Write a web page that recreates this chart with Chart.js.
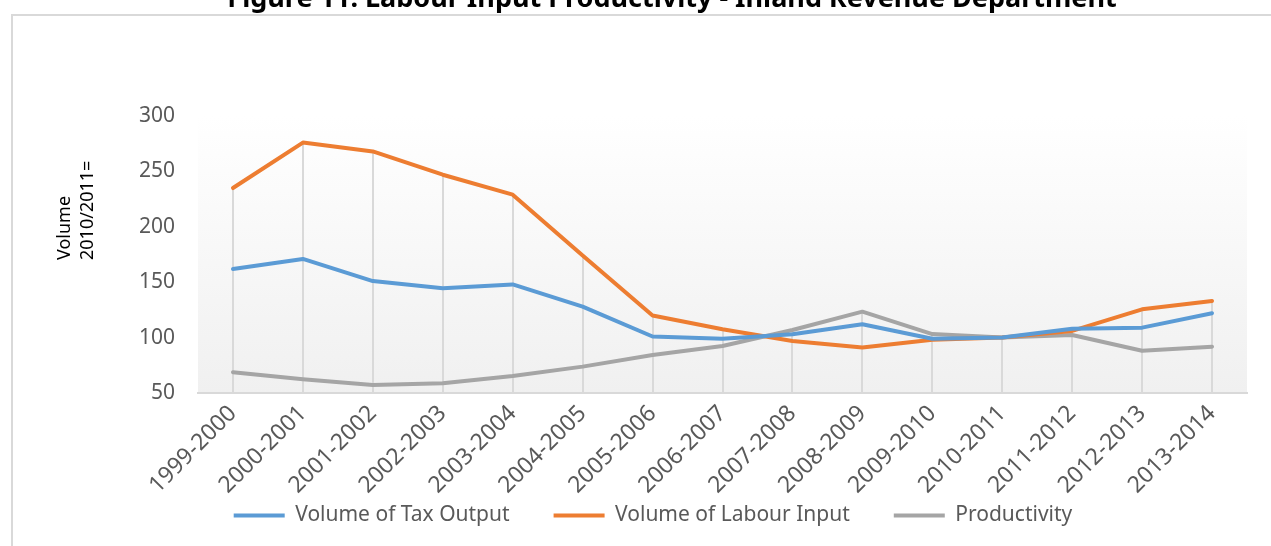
<!DOCTYPE html>
<html>
<head>
<meta charset="utf-8">
<script src="https://cdn.jsdelivr.net/npm/chart.js@4.4.1/dist/chart.umd.min.js"></script>
<style>
  html, body { margin: 0; padding: 0; background: #fff; }
</style>
</head>
<body>
<canvas id="chart" width="1271" height="546"></canvas>
<script>
const years = [
  "1999-2000", "2000-2001", "2001-2002", "2002-2003", "2003-2004",
  "2004-2005", "2005-2006", "2006-2007", "2007-2008", "2008-2009",
  "2009-2010", "2010-2011", "2011-2012", "2012-2013", "2013-2014"
]
const taxOutput = [162, 171, 151, 144.5, 148, 128, 101, 99, 103, 112, 99, 100, 108, 109, 122]
const labourInput = [235, 276, 268, 247, 229, 174, 120, 107.5, 97, 91, 98, 100, 106, 125.5, 133]
const productivity = [68.7, 62.4, 57.2, 58.7, 65.3, 73.8, 84.3, 92.4, 106.9, 123.4, 103.2, 100, 102.3, 88.2, 91.8]
const yMin = 50
const yMax = 300
const yStep = 50

const FONT = "'Noto Sans', sans-serif"
const LABEL_GREY = "#595959"

// white page, outer frame, cropped heading, plot gradient and the rotated y title
const framePlugin = {
  id: "frame",
  beforeDraw(chart) {
    const { ctx, chartArea } = chart
    ctx.save()
    ctx.fillStyle = "#fff"
    ctx.fillRect(0, 0, chart.width, chart.height)

    ctx.strokeStyle = "#d9d9d9"
    ctx.lineWidth = 2
    ctx.beginPath()
    ctx.moveTo(12, chart.height + 2)
    ctx.lineTo(12, 15)
    ctx.lineTo(chart.width + 2, 15)
    ctx.stroke()

    ctx.fillStyle = "#000"
    ctx.font = `bold 27px ${FONT}`
    ctx.textAlign = "center"
    ctx.textBaseline = "alphabetic"
    ctx.fillText("Figure 11: Labour Input Productivity - Inland Revenue Department", 672, 7)

    const grad = ctx.createLinearGradient(0, chartArea.top, 0, chartArea.bottom)
    grad.addColorStop(0, "#ffffff")
    grad.addColorStop(1, "#f0f0f0")
    ctx.fillStyle = grad
    ctx.fillRect(chartArea.left, chartArea.top, chartArea.right - chartArea.left, chartArea.bottom - chartArea.top)

    ctx.fillStyle = "#000"
    ctx.font = `18px ${FONT}`
    ctx.textAlign = "left"
    ctx.textBaseline = "middle"
    ctx.translate(0, 260)
    ctx.rotate(-Math.PI / 2)
    ctx.fillText("Volume", 0, 65)
    ctx.fillText("2010/2011=", 0, 88)
    ctx.restore()
  }
}

// drop lines from the highest series down to the category axis
const dropLinesPlugin = {
  id: "dropLines",
  beforeDatasetsDraw(chart) {
    const { ctx, chartArea, scales } = chart
    ctx.save()
    ctx.strokeStyle = "#d9d9d9"
    ctx.lineWidth = 2
    years.forEach((_, i) => {
      const top = Math.max(taxOutput[i], labourInput[i], productivity[i])
      const x = Math.round(scales.x.getPixelForValue(i))
      ctx.beginPath()
      ctx.moveTo(x, scales.y.getPixelForValue(top))
      ctx.lineTo(x, chartArea.bottom)
      ctx.stroke()
    })
    ctx.restore()
  }
}

// the rotated year labels run down past the legend's top edge, so let them
// draw into the space below the axis box instead of being clipped
const labelRoomPlugin = {
  id: "labelRoom",
  afterLayout(chart) {
    chart.scales.x.bottom = chart.height
  }
}

const lineStyle = { borderWidth: 4, pointRadius: 0, tension: 0, borderCapStyle: "round", borderJoinStyle: "round" }

new Chart(document.getElementById("chart"), {
  type: "line",
  data: {
    labels: years,
    datasets: [
      { label: "Volume of Tax Output", data: taxOutput, borderColor: "#5b9bd5", backgroundColor: "#5b9bd5", ...lineStyle },
      { label: "Volume of Labour Input", data: labourInput, borderColor: "#ed7d31", backgroundColor: "#ed7d31", ...lineStyle },
      { label: "Productivity", data: productivity, borderColor: "#a5a5a5", backgroundColor: "#a5a5a5", ...lineStyle }
    ]
  },
  options: {
    responsive: false,
    animation: false,
    layout: { padding: { left: 59, right: 24, top: 116, bottom: 10 } },
    plugins: {
      tooltip: { enabled: false },
      legend: {
        position: "bottom",
        labels: {
          boxWidth: 51,
          boxHeight: 4,
          padding: 44,
          color: LABEL_GREY,
          font: { family: FONT, size: 21 },
          generateLabels: (chart) => chart.data.datasets.map((ds, i) => ({
            text: ds.label,
            fillStyle: ds.borderColor,
            strokeStyle: ds.borderColor,
            lineWidth: 0,
            hidden: false,
            datasetIndex: i,
            fontColor: LABEL_GREY
          }))
        }
      }
    },
    scales: {
      x: {
        offset: true,
        grid: { display: false, drawTicks: false },
        border: { display: true, color: "#d9d9d9", width: 2 },
        ticks: {
          autoSkip: false,
          minRotation: 45,
          maxRotation: 45,
          padding: 7,
          color: LABEL_GREY,
          font: { family: FONT, size: 23 }
        },
        afterFit: (scale) => { scale.height = 68 }
      },
      y: {
        min: yMin,
        max: yMax,
        grid: { display: false, drawTicks: false },
        border: { display: false },
        ticks: {
          stepSize: yStep,
          padding: 23,
          color: LABEL_GREY,
          font: { family: FONT, size: 21 }
        },
        afterFit: (scale) => { scale.width = 139 }
      }
    }
  },
  plugins: [framePlugin, dropLinesPlugin, labelRoomPlugin]
})
</script>
</body>
</html>
